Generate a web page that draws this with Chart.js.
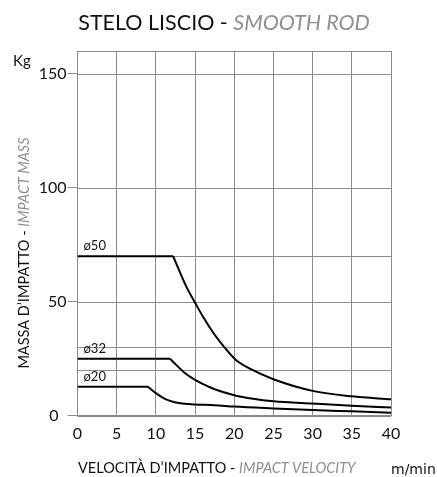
<!DOCTYPE html>
<html>
<head>
<meta charset="utf-8">
<script src="https://cdn.jsdelivr.net/npm/chart.js@4.4.1/dist/chart.umd.min.js"></script>
<style>
  html, body { margin: 0; padding: 0; background: #fff; }
  #wrap { width: 437px; height: 477px; position: relative; }
</style>
</head>
<body>
<div id="wrap"><canvas id="chart" width="437" height="477"></canvas></div>
<script>
// velocity (m/min) and impact mass (kg)
const speed50 = [0, 12.2, 13.9, 15, 16, 17.3, 18.6, 20.1, 22, 25, 30, 35, 40];
const mass50  = [70, 70, 56.5, 49.6, 43.5, 36.5, 30.6, 24.8, 20.6, 16, 10.9, 8.5, 7.2];

const speed32 = [0, 11.8, 13.7, 15, 16.25, 17.5, 20, 22.4, 25, 30, 35, 40];
const mass32  = [25, 25, 18.7, 15.7, 13.5, 11.6, 9.0, 7.4, 6.3, 5.3, 4.4, 3.6];

const speed20 = [0, 9.0, 10, 11.15, 12.4, 13.7, 15, 17.5, 20, 25, 30, 35, 40];
const mass20  = [12.7, 12.7, 9.9, 7.4, 5.9, 5.2, 4.9, 4.6, 4.0, 3.2, 2.5, 1.9, 1.3];

const rodLabels = ['ø50', 'ø32', 'ø20'];
const yGridValues = [0, 20, 30, 50, 70, 100, 150, 160];
const yLabelValues = [0, 50, 100, 150];

const FONT = 'Lato, "Noto Sans", sans-serif';
const GRID = '#8c8c8c';
const NONE = 'rgba(0,0,0,0)';
const GREY_TEXT = '#8f8f8f';

const pts = (xs, ys) => xs.map((x, i) => ({ x, y: ys[i] }));

// each rod: flat part (straight) + decay part (smooth), so the knee stays sharp
const series = [[speed50, mass50], [speed32, mass32], [speed20, mass20]];
const datasets = [];
series.forEach(([xs, ys], i) => {
  const all = pts(xs, ys);
  datasets.push({ label: rodLabels[i], data: all.slice(0, 2), tension: 0 });
  datasets.push({ label: rodLabels[i], data: all.slice(1), cubicInterpolationMode: 'monotone' });
});
datasets.forEach(d => {
  d.borderColor = '#000';
  d.borderWidth = 2;
  d.pointRadius = 0;
  d.fill = false;
});

// horizontal grid is irregular (0,20,30,50,70,100,150,160), so draw it here
const hGridPlugin = {
  id: 'hgrid',
  beforeDatasetsDraw(chart) {
    const ctx = chart.ctx;
    const area = chart.chartArea;
    const ys = chart.scales.y;
    ctx.save();
    ctx.strokeStyle = GRID;
    ctx.lineWidth = 1;
    ctx.beginPath();
    yGridValues.forEach(v => {
      const y = Math.round(ys.getPixelForValue(v)) + 0.5;
      ctx.moveTo(area.left, y);
      ctx.lineTo(area.right, y);
    });
    ctx.stroke();
    ctx.restore();
  }
};

// draws a run of text pieces with their own styles
function drawRun(ctx, parts, x, y, align) {
  let total = 0;
  parts.forEach(p => { ctx.font = p.font; p.w = ctx.measureText(p.text).width; total += p.w; });
  let cx = align === 'center' ? x - total / 2 : x;
  parts.forEach(p => {
    ctx.font = p.font;
    ctx.fillStyle = p.color;
    ctx.fillText(p.text, cx, y);
    cx += p.w;
  });
}

const textPlugin = {
  id: 'texts',
  afterDraw(chart) {
    const ctx = chart.ctx;
    const area = chart.chartArea;
    const ys = chart.scales.y;
    ctx.save();
    ctx.textBaseline = 'middle';
    ctx.textAlign = 'left';

    // title
    drawRun(ctx, [
      { text: 'STELO LISCIO - ', font: '21.5px ' + FONT, color: '#111' },
      { text: 'SMOOTH ROD', font: 'italic 21.5px ' + FONT, color: GREY_TEXT }
    ], 224, 23, 'center');

    // unit on y
    ctx.font = '15px ' + FONT;
    ctx.fillStyle = '#111';
    ctx.fillText('Kg', 13, 61);

    // curve labels
    ctx.font = '13px ' + FONT;
    const labelY = [mass50[0], mass32[0], mass20[0]];
    rodLabels.forEach((t, i) => {
      ctx.fillText(t, area.left + 6, ys.getPixelForValue(labelY[i]) - 10);
    });

    // x axis title
    drawRun(ctx, [
      { text: 'VELOCITÀ D’IMPATTO - ', font: '14.5px ' + FONT, color: '#111' },
      { text: 'IMPACT VELOCITY', font: 'italic 14.5px ' + FONT, color: GREY_TEXT }
    ], 78, 468, 'left');

    ctx.font = '14px "DejaVu Sans", sans-serif';
    ctx.fillStyle = '#111';
    ctx.fillText('m/min', 391, 470);

    // y axis title (rotated)
    ctx.translate(24, 253);
    ctx.rotate(-Math.PI / 2);
    drawRun(ctx, [
      { text: 'MASSA D’IMPATTO - ', font: '14.5px ' + FONT, color: '#111' },
      { text: 'IMPACT MASS', font: 'italic 14.5px ' + FONT, color: GREY_TEXT }
    ], 0, 0, 'center');
    ctx.restore();
  }
};

new Chart(document.getElementById('chart'), {
  type: 'line',
  data: { datasets },
  plugins: [hGridPlugin, textPlugin],
  options: {
    responsive: false,
    animation: false,
    events: [],
    layout: { padding: { top: 51, right: 46, left: 0, bottom: 0 } },
    plugins: { legend: { display: false }, tooltip: { enabled: false }, title: { display: false } },
    scales: {
      x: {
        type: 'linear',
        min: 0,
        max: 40,
        afterFit: s => { s.height = 61.3; },
        grid: { color: GRID, lineWidth: 1, drawTicks: false },
        border: { color: GRID },
        ticks: { stepSize: 5, color: '#111', font: { family: FONT, size: 16 }, padding: 9, maxRotation: 0, autoSkip: false }
      },
      y: {
        type: 'linear',
        min: 0,
        max: 160,
        afterFit: s => { s.width = 77.5; },
        grid: {
          drawOnChartArea: false,
          lineWidth: 1,
          tickLength: 10,
          tickColor: c => (c.tick && yLabelValues.includes(c.tick.value)) ? GRID : NONE
        },
        border: { color: GRID },
        ticks: {
          count: 17,
          color: '#111',
          font: { family: FONT, size: 16 },
          padding: 1,
          autoSkip: false,
          callback: v => yLabelValues.includes(v) ? (v === 0 ? '0\u2002' : String(v)) : ''
        }
      }
    }
  }
});
</script>
</body>
</html>
